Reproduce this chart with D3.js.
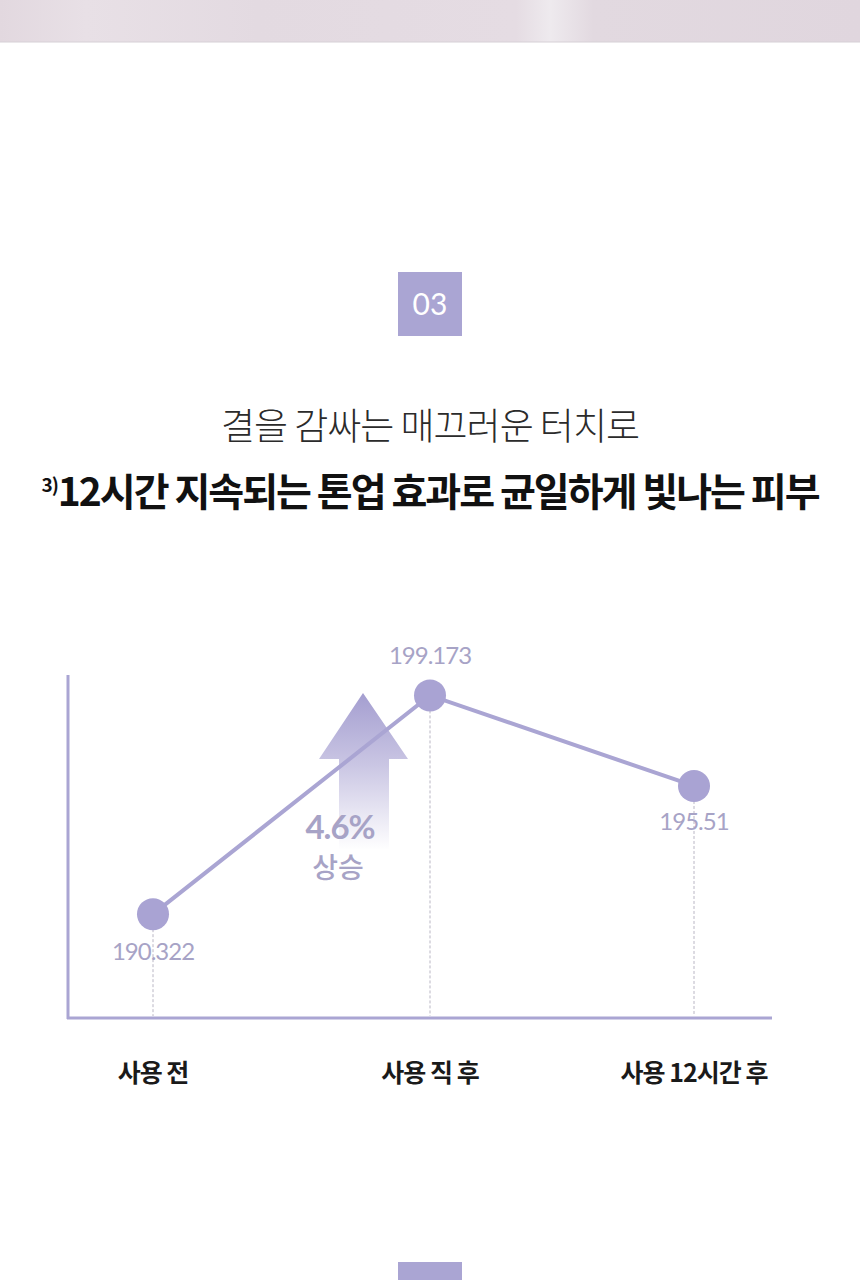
<!DOCTYPE html>
<html>
<head>
<meta charset="utf-8">
<script src="https://cdn.jsdelivr.net/npm/d3@7"></script>
<style>
  html, body { margin: 0; padding: 0; background: #fff; }
  svg { display: block; }
  text { font-family: "Noto Sans CJK KR", "Noto Sans", sans-serif; }
</style>
</head>
<body>
<script>
// chart values
var stages = ["사용 전", "사용 직 후", "사용 12시간 후"];
var values = [190.322, 199.173, 195.51];
var valueLabels = ["190.322", "199.173", "195.51"];
var riseText = ["4.6%", "상승"];
var titleLines = ["결을 감싸는 매끄러운 터치로", "12시간 지속되는 톤업 효과로 균일하게 빛나는 피부"];

var width = 860, height = 1280,
    purple = "#aaa5d3",
    labelGray = "#a7a3c6";

var svg = d3.select("body").append("svg")
    .attr("width", width)
    .attr("height", height);

var defs = svg.append("defs");
var grad = defs.append("linearGradient")
    .attr("id", "arrowGrad")
    .attr("x1", 0).attr("y1", 0).attr("x2", 0).attr("y2", 1);
grad.append("stop").attr("offset", "0%").attr("stop-color", "#a49ed0");
grad.append("stop").attr("offset", "45%").attr("stop-color", "#c9c5e3");
grad.append("stop").attr("offset", "100%").attr("stop-color", "#ffffff");

var bandGrad = defs.append("linearGradient")
    .attr("id", "bandGrad")
    .attr("x1", 0).attr("y1", 0).attr("x2", 1).attr("y2", 0);
bandGrad.append("stop").attr("offset", "0%").attr("stop-color", "#e2d8df");
bandGrad.append("stop").attr("offset", "10%").attr("stop-color", "#e8e0e6");
bandGrad.append("stop").attr("offset", "30%").attr("stop-color", "#e3dae1");
bandGrad.append("stop").attr("offset", "60%").attr("stop-color", "#e5dce3");
bandGrad.append("stop").attr("offset", "64%").attr("stop-color", "#eeeaee");
bandGrad.append("stop").attr("offset", "69%").attr("stop-color", "#e2d9e0");
bandGrad.append("stop").attr("offset", "100%").attr("stop-color", "#e0d6de");

// top photo strip
svg.append("rect")
    .attr("x", 0).attr("y", 0)
    .attr("width", width).attr("height", 42)
    .attr("fill", "url(#bandGrad)");
svg.append("line")
    .attr("x1", 0).attr("x2", width).attr("y1", 42).attr("y2", 42)
    .attr("stroke", "#d6d0d6").attr("stroke-width", 1);

// number badge
svg.append("rect")
    .attr("x", 398).attr("y", 272)
    .attr("width", 64).attr("height", 64)
    .attr("fill", purple);
svg.append("text")
    .attr("x", 430).attr("y", 315)
    .attr("text-anchor", "middle")
    .attr("fill", "#fff")
    .style("font-family", "Lato, sans-serif")
    .style("font-size", "30px")
    .text("03");

// headings
svg.append("text")
    .attr("x", 430).attr("y", 440)
    .attr("text-anchor", "middle")
    .attr("fill", "#2b2b2b")
    .style("font-size", "37px")
    .style("font-weight", 300)
    .style("letter-spacing", "-1px")
    .text(titleLines[0]);

var t2 = svg.append("text")
    .attr("x", 430).attr("y", 506)
    .attr("text-anchor", "middle")
    .attr("fill", "#111")
    .style("font-size", "39px")
    .style("font-weight", 700)
    .style("letter-spacing", "-2px");
t2.append("tspan")
    .attr("dy", "-14")
    .style("font-size", "19px")
    .style("letter-spacing", "-1px")
    .text("3)");
t2.append("tspan")
    .attr("dy", "14")
    .text(titleLines[1]);

// chart area: stage positions (middle stage sits off-centre)
var xPos = d3.scaleOrdinal().domain(stages).range([153, 430, 694]);

var y = d3.scaleLinear()
    .domain([186.12, 200.0])
    .range([1018, 675]);

var axisG = svg.append("g");
axisG.append("line")
    .attr("x1", 68).attr("x2", 68)
    .attr("y1", 675).attr("y2", 1019)
    .attr("stroke", purple).attr("stroke-width", 3);
axisG.append("line")
    .attr("x1", 67).attr("x2", 772)
    .attr("y1", 1018).attr("y2", 1018)
    .attr("stroke", purple).attr("stroke-width", 3);

// dashed drop lines
svg.selectAll(".drop")
    .data(values)
    .enter().append("line")
    .attr("class", "drop")
    .attr("x1", function(d, i) { return xPos(stages[i]); })
    .attr("x2", function(d, i) { return xPos(stages[i]); })
    .attr("y1", function(d) { return y(d); })
    .attr("y2", 1016)
    .attr("stroke", "#b9b6c4")
    .attr("stroke-width", 1)
    .attr("stroke-dasharray", "3,2");

// rise arrow
var ax = 363, aTop = 693;
svg.append("path")
    .attr("d", "M" + ax + "," + aTop +
      " L" + (ax + 45) + "," + 759 +
      " L" + (ax + 26) + "," + 759 +
      " L" + (ax + 26) + "," + 850 +
      " L" + (ax - 24) + "," + 850 +
      " L" + (ax - 24) + "," + 759 +
      " L" + (ax - 44) + "," + 759 + " Z")
    .attr("fill", "url(#arrowGrad)");

// line
var line = d3.line()
    .x(function(d, i) { return xPos(stages[i]); })
    .y(function(d) { return y(d); });

svg.append("path")
    .datum(values)
    .attr("d", line)
    .attr("fill", "none")
    .attr("stroke", purple)
    .attr("stroke-width", 4);

svg.selectAll(".dot")
    .data(values)
    .enter().append("circle")
    .attr("class", "dot")
    .attr("cx", function(d, i) { return xPos(stages[i]); })
    .attr("cy", function(d) { return y(d); })
    .attr("r", 16)
    .attr("fill", "#a9a3d3");

// value labels
var labelOffset = [46, -31, 44];
svg.selectAll(".val")
    .data(values)
    .enter().append("text")
    .attr("class", "val")
    .attr("x", function(d, i) { return xPos(stages[i]); })
    .attr("y", function(d, i) { return y(d) + labelOffset[i]; })
    .attr("text-anchor", "middle")
    .attr("fill", labelGray)
    .style("font-family", "Lato, sans-serif")
    .style("font-size", "24px")
    .style("letter-spacing", "-1px")
    .text(function(d, i) { return valueLabels[i]; });

// rise text
svg.append("text")
    .attr("x", 340).attr("y", 839)
    .attr("text-anchor", "middle")
    .attr("fill", labelGray)
    .style("font-family", "Lato, sans-serif")
    .style("font-size", "33px")
    .style("font-weight", 700)
    .style("letter-spacing", "-1px")
    .text(riseText[0]);
svg.append("text")
    .attr("x", 338).attr("y", 878)
    .attr("text-anchor", "middle")
    .attr("fill", labelGray)
    .style("font-size", "28px")
    .style("font-weight", 500)
    .text(riseText[1]);

// x labels
svg.selectAll(".xl")
    .data(stages)
    .enter().append("text")
    .attr("class", "xl")
    .attr("x", function(d) { return xPos(d); })
    .attr("y", 1082)
    .attr("text-anchor", "middle")
    .attr("fill", "#1a1a1a")
    .style("font-size", "25px")
    .style("font-weight", 700)
    .style("letter-spacing", "-1px")
    .text(function(d) { return d; });

// next section badge (cut off)
svg.append("rect")
    .attr("x", 398).attr("y", 1262)
    .attr("width", 64).attr("height", 18)
    .attr("fill", purple);
</script>
</body>
</html>
